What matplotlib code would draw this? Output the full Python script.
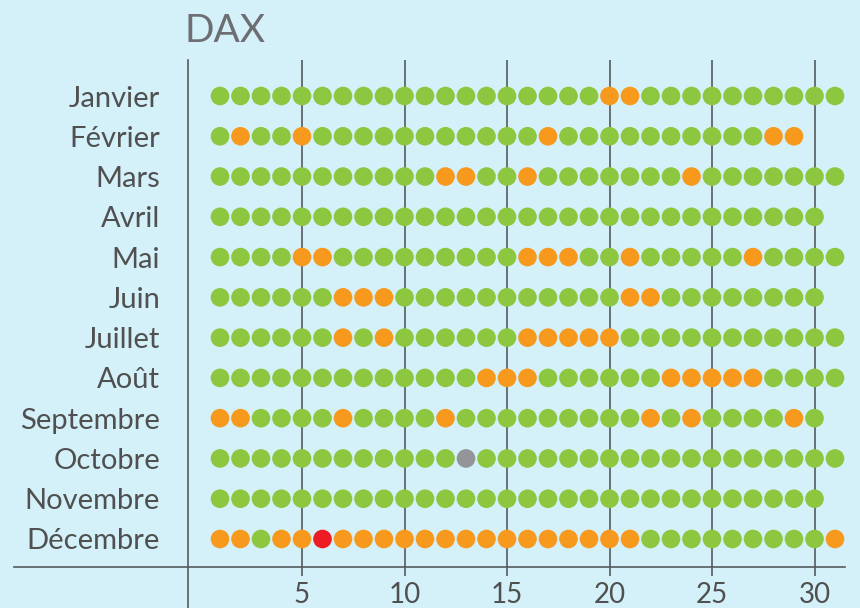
import matplotlib.pyplot as plt

# data
months = ['Janvier', 'Février', 'Mars', 'Avril', 'Mai', 'Juin', 'Juillet',
          'Août', 'Septembre', 'Octobre', 'Novembre', 'Décembre']
n_days = [31, 29, 31, 30, 31, 30, 31, 31, 30, 31, 30, 31]
orange_days = [
    [20, 21],
    [2, 5, 17, 28, 29],
    [12, 13, 16, 24],
    [],
    [5, 6, 16, 17, 18, 21, 27],
    [7, 8, 9, 21, 22],
    [7, 9, 16, 17, 18, 19, 20],
    [14, 15, 16, 23, 24, 25, 26, 27],
    [1, 2, 7, 12, 22, 24, 29],
    [],
    [],
    [1, 2, 4, 5, 7, 8, 9, 10, 11, 12, 13, 14, 15, 16, 17, 18, 19, 20, 21, 31],
]
red_days = [[], [], [], [], [], [], [], [], [], [], [], [6]]
grey_days = [[], [], [], [], [], [], [], [], [], [13], [], []]
day_ticks = [5, 10, 15, 20, 25, 30]

GREEN = '#8dc63f'
ORANGE = '#f7991d'
RED = '#ed1c24'
GREY = '#939598'
BG = '#d4f1fa'
LINE = '#555a5e'
TXT = '#505050'

plt.rcParams['font.family'] = ['Lato', 'DejaVu Sans']

W, H = 860, 608
fig = plt.figure(figsize=(W / 100, H / 100), dpi=100, facecolor=BG)

# axes spans x 188..845 px, y 60..608 px
ax = fig.add_axes([188 / W, 0, (845 - 188) / W, (H - 60) / H], facecolor=BG)

xs, ys, cs = [], [], []
for i, m in enumerate(months):
    for d in range(1, n_days[i] + 1):
        if d in red_days[i]:
            c = RED
        elif d in grey_days[i]:
            c = GREY
        elif d in orange_days[i]:
            c = ORANGE
        else:
            c = GREEN
        xs.append(d)
        ys.append(i)
        cs.append(c)

px_day = 20.5
px_row = 40.27
x_lo = 1 - (220 - 188) / px_day
x_hi = 1 + (845 - 220) / px_day
y_top = 0 - (96 - 60) / px_row
y_bot = 11 + (608 - 539) / px_row
y_axis = 11 + (567 - 539) / px_row
y_grid_end = 11 + (576 - 539) / px_row

ax.set_xlim(x_lo, x_hi)
ax.set_ylim(y_bot, y_top)

ax.vlines(day_ticks, y_top, y_grid_end, color=LINE, lw=1.2, zorder=1)
ax.scatter(xs, ys, s=180, c=cs, linewidths=0, zorder=3)

# horizontal base line running left past the spine
ax.plot([-0.265, 1.0], [y_axis, y_axis], transform=ax.get_yaxis_transform(),
        color=LINE, lw=1.2, clip_on=False, zorder=2)

for s in ['top', 'right', 'bottom']:
    ax.spines[s].set_visible(False)
ax.spines['left'].set_color(LINE)
ax.spines['left'].set_linewidth(1.2)

ax.set_yticks(range(len(months)))
ax.set_yticklabels(months, fontsize=21, color=TXT)
ax.tick_params(axis='y', length=0, pad=20)

ax.set_xticks(day_ticks)
ax.set_xticklabels([str(d) for d in day_ticks], fontsize=20, color=TXT)
ax.tick_params(axis='x', length=0, pad=-19)

fig.text(184 / W, 1 - 31 / H, 'DAX', fontsize=28, color='#6d6e71',
         va='center')

fig.savefig('out.png', dpi=100, facecolor=BG)
